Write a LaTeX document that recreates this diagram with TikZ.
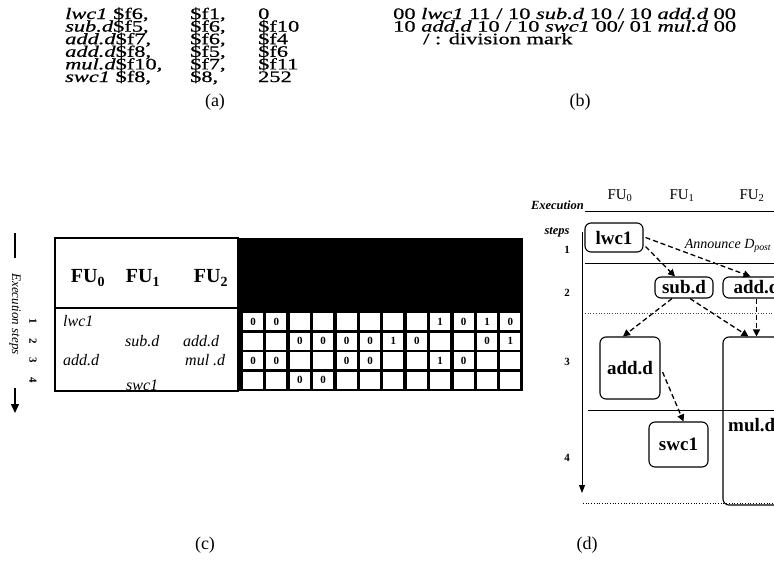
\documentclass[tikz,border=0pt]{standalone}
\usepackage{graphicx}
\usepackage{fontspec}
\setmainfont{Liberation Serif}
\newfontfamily\scanfont{Liberation Serif}[FakeBold=0.6]
\usetikzlibrary{arrows.meta,calc}
\newcommand{\fs}[1]{\fontsize{#1}{#1}\selectfont}
\newcommand{\cellval}[1]{\if x#1\else #1\fi}
\newcommand{\stretchtxt}[1]{\scalebox{1.4}[1]{#1}}
\begin{document}
\begin{tikzpicture}[x=1pt,y=-1pt,
  atxt/.style={anchor=base west, inner sep=0pt, font=\scanfont\fs{16}},
  captxt/.style={inner sep=0pt, font=\fs{18}},
  fuhead/.style={inner sep=0pt, font=\bfseries\fs{20}},
  rowtxt/.style={anchor=west, inner sep=0pt, font=\itshape\fs{16}},
  cellbox/.style={fill=white, minimum width=20pt, minimum height=17pt, inner sep=0pt, font=\bfseries\fs{11}},
  vtxt/.style={rotate=-90, inner sep=0pt},
  dbox/.style={draw, rounded corners=6pt, line width=1.1pt, inner sep=0pt, font=\bfseries\fs{19}},
  darr/.style={line width=1.3pt, dash pattern=on 5pt off 3pt, -{Triangle[length=7pt,width=7pt]}},
  stepnum/.style={inner sep=0pt, font=\bfseries\fs{11}},
  dfu/.style={inner sep=0pt, font=\fs{15}},
]
\useasboundingbox (0,0) rectangle (774,563);
\clip (0,0) rectangle (774,563);

% ---------------- (a) ----------------
\node[atxt] (a11) at (65,19)    {\stretchtxt{\textit{lwc1} \$f6,}};
\node[atxt] (a12) at (190,19)   {\stretchtxt{\$f1,}};
\node[atxt] (a13) at (258,19)   {\stretchtxt{0}};
\node[atxt] (a21) at (65,31.6)  {\stretchtxt{\textit{sub.d}\$f5,}};
\node[atxt] (a22) at (190,31.6) {\stretchtxt{\$f6,}};
\node[atxt] (a23) at (258,31.6) {\stretchtxt{\$f10}};
\node[atxt] (a31) at (65,44.2)  {\stretchtxt{\textit{add.d}\$f7,}};
\node[atxt] (a32) at (190,44.2) {\stretchtxt{\$f6,}};
\node[atxt] (a33) at (258,44.2) {\stretchtxt{\$f4}};
\node[atxt] (a41) at (65,56.8)  {\stretchtxt{\textit{add.d}\$f8,}};
\node[atxt] (a42) at (190,56.8) {\stretchtxt{\$f5,}};
\node[atxt] (a43) at (258,56.8) {\stretchtxt{\$f6}};
\node[atxt] (a51) at (65,69.4)  {\stretchtxt{\textit{mul.d}\$f10,}};
\node[atxt] (a52) at (190,69.4) {\stretchtxt{\$f7,}};
\node[atxt] (a53) at (258,69.4) {\stretchtxt{\$f11}};
\node[atxt] (a61) at (65,82)    {\stretchtxt{\textit{swc1} \$f8,}};
\node[atxt] (a62) at (190,82)   {\stretchtxt{\$8,}};
\node[atxt] (a63) at (258,82)   {\stretchtxt{252}};
\node[captxt] (capa) at (215,102) {(a)};

% ---------------- (b) ----------------
\node[atxt] (b1) at (393,19)   {\stretchtxt{00 \textit{lwc1} 11 / 10 \textit{sub.d} 10 / 10 \textit{add.d} 00}};
\node[atxt] (b2) at (393,31.6) {\stretchtxt{10 \textit{add.d} 10 / 10 \textit{swc1} 00/ 01 \textit{mul.d} 00}};
\node[atxt] (b3) at (423,44.2) {\stretchtxt{/ : division mark}};
\node[captxt] (capb) at (580,102) {(b)};

% ---------------- (c) ----------------
\fill[black] (238,238) rectangle (523,391);
\foreach \r/\yt/\vals in {1/313/{0,0,x,x,x,x,x,x,1,0,1,0},
                          2/332.5/{x,x,0,0,0,0,1,0,x,x,0,1},
                          3/352/{0,0,x,x,0,0,x,x,1,0,x,x},
                          4/371.5/{x,x,0,0,x,x,x,x,x,x,x,x}}{
  \foreach \v [count=\k from 0] in \vals {
    \node[cellbox] (g\r-\k) at ({253+23.4*\k},{\yt+8.5}) {\cellval{\v}};
  }
}
\node[fuhead] (cfu0) at (88,278) {FU\textsubscript{0}};
\node[fuhead] (cfu1) at (143,278) {FU\textsubscript{1}};
\node[fuhead] (cfu2) at (211,278) {FU\textsubscript{2}};
\node[rowtxt] (cr1) at (63,321.5) {lwc1};
\node[rowtxt] (cr2a) at (125,341) {sub.d};
\node[rowtxt] (cr2b) at (183,341) {add.d};
\node[rowtxt] (cr3a) at (63,360.5) {add.d};
\node[rowtxt] (cr3b) at (185,360.5) {mul .d};
\node[rowtxt] (cr4) at (126,385) {swc1};
\draw[line width=1.6pt] (55,238) rectangle (238,391);
\draw[line width=2.2pt] (55,308) -- (238,308);

\coordinate (vt1) at (15,233);
\coordinate (vt2) at (15,258);
\draw[line width=1.5pt] (vt1) -- (vt2);
\node[vtxt, font=\itshape\fs{13}] (cexec) at (15,314) {Execution steps};
\node[vtxt, stepnum] (cn1) at (33,321.5) {1};
\node[vtxt, stepnum] (cn2) at (33,341) {2};
\node[vtxt, stepnum] (cn3) at (33,360.5) {3};
\node[vtxt, stepnum] (cn4) at (33,380) {4};
\coordinate (va1) at (15,388);
\coordinate (va2) at (15,413);
\draw[line width=1.5pt, -{Triangle[length=9pt,width=8pt]}] (va1) -- (va2);
\node[captxt] (capc) at (205,545) {(c)};

% ---------------- (d) ----------------
\node[font=\bfseries\itshape\fs{12.5}, anchor=east, inner sep=0pt] (dexe) at (584,205) {Execution};
\node[font=\bfseries\itshape\fs{12.5}, inner sep=0pt] (dstp) at (557,232) {steps};
\draw[line width=0.6pt] (585,211) -- (774,211);
\node[dfu] (dfu0) at (620,196) {FU\textsubscript{0}};
\node[dfu] (dfu1) at (682,196) {FU\textsubscript{1}};
\node[dfu] (dfu2) at (752,196) {FU\textsubscript{2}};
\coordinate (ax1) at (582,232);
\coordinate (ax2) at (582,493);
\draw[line width=0.9pt, -{Triangle[length=8pt,width=6pt]}] (ax1) -- (ax2);
\node[stepnum] (dn1) at (567,250) {1};
\node[stepnum] (dn2) at (567,293) {2};
\node[stepnum] (dn3) at (567,362) {3};
\node[stepnum] (dn4) at (567,458) {4};
\draw[line width=0.6pt] (585,263) -- (774,263);
\draw[line width=0.7pt, dotted, black!70] (585,313) -- (774,313);
\draw[line width=0.8pt] (588,410) -- (774,410);
\draw[line width=0.7pt, dotted] (583,503) -- (774,503);

\node[dbox, minimum width=58pt, minimum height=29pt] (lwc) at (614,237.5) {lwc1};
\node[dbox, minimum width=58pt, minimum height=21pt] (subd) at (684,287.5) {sub.d};
\node[dbox, minimum width=67pt, minimum height=21pt] (addb) at (756.5,287.5) {add.d};
\node[dbox, minimum width=60pt, minimum height=62pt] (addc) at (630,368) {add.d};
\node[dbox, minimum width=67pt, minimum height=168pt] (muld) at (756.5,421) {};
\node[font=\bfseries\fs{19}, anchor=west, inner sep=0pt] (muldl) at (728,425) {mul.d};
\node[dbox, minimum width=59pt, minimum height=45pt] (swc) at (678.5,444.5) {swc1};

\draw[darr] ($(lwc.east)+(2,0)$) -- ($(addb.north)+(-6,0)$);
\node[font=\itshape\fs{14}, inner sep=0pt] (ann) at (728,246) {Announce \textit{D}\textsubscript{\textit{post}}};
\draw[darr] ($(lwc.east)+(2,9)$) -- ($(subd.north)+(-9,0)$);
\draw[darr] ($(subd.south)+(-12,0)$) -- ($(addc.north)+(-7,0)$);
\draw[darr] ($(subd.south)+(6,0)$) -- ($(muld.north)+(-8,0)$);
\draw[darr] (addb.south) -- (muld.north);
\draw[darr] ($(addc.east)+(2,4)$) -- ($(swc.north)+(5,0)$);
\node[captxt] (capd) at (587,545) {(d)};
\end{tikzpicture}
\end{document}
